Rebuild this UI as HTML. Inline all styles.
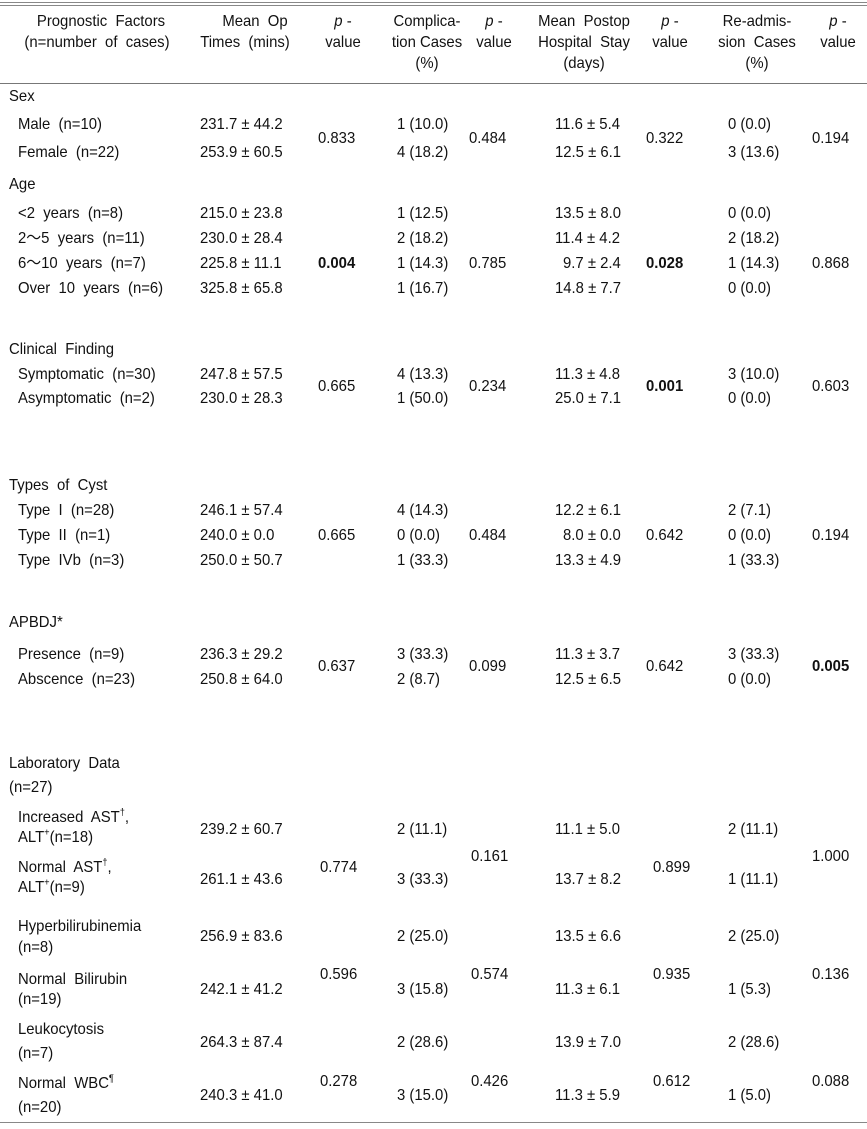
<!DOCTYPE html>
<html><head><meta charset="utf-8"><style>
body{margin:0;background:#fff;}
#w{position:relative;width:867px;height:1129px;overflow:hidden;font-family:"Liberation Sans",Arial,sans-serif;font-size:16px;color:#111;}
#w div{position:absolute;line-height:18px;white-space:nowrap;transform:scaleX(.93);transform-origin:left center;}
#w div.c{width:160px;text-align:center;transform-origin:center center;}
.b{font-weight:bold;}
sup{font-size:10px;line-height:0;}
#w div.ln{height:0;left:0;width:867px;border-top:1px solid #777;transform:none;}
</style></head><body><div id="w">
<div class="ln" style="top:2px;border-top:1.5px solid #888"></div>
<div class="ln" style="top:5px;border-top:1.5px solid #888"></div>
<div class="ln" style="top:83px"></div>
<div class="ln" style="top:1122px;border-top:1.5px solid #888"></div>

<div class="c" style="left:21px;top:13px">Prognostic&nbsp; Factors</div>
<div class="c" style="left:17px;top:34px">(n=number&nbsp; of&nbsp; cases)</div>
<div class="c" style="left:175px;top:13px">Mean&nbsp; Op</div>
<div class="c" style="left:165px;top:34px">Times&nbsp; (mins)</div>
<div class="c" style="left:263px;top:13px"><i>p</i> -</div>
<div class="c" style="left:263px;top:34px">value</div>
<div class="c" style="left:347px;top:13px">Complica-</div>
<div class="c" style="left:347px;top:34px">tion Cases</div>
<div class="c" style="left:347px;top:55px">(%)</div>
<div class="c" style="left:414px;top:13px"><i>p</i> -</div>
<div class="c" style="left:414px;top:34px">value</div>
<div class="c" style="left:504px;top:13px">Mean&nbsp; Postop</div>
<div class="c" style="left:504px;top:34px">Hospital&nbsp; Stay</div>
<div class="c" style="left:504px;top:55px">(days)</div>
<div class="c" style="left:590px;top:13px"><i>p</i> -</div>
<div class="c" style="left:590px;top:34px">value</div>
<div class="c" style="left:677px;top:13px">Re-admis-</div>
<div class="c" style="left:677px;top:34px">sion&nbsp; Cases</div>
<div class="c" style="left:677px;top:55px">(%)</div>
<div class="c" style="left:758px;top:13px"><i>p</i> -</div>
<div class="c" style="left:758px;top:34px">value</div>

<div style="left:9px;top:88px">Sex</div>
<div style="left:18px;top:116px">Male&nbsp; (n=10)</div>
<div style="left:18px;top:144px">Female&nbsp; (n=22)</div>
<div style="left:200px;top:116px">231.7 ± 44.2</div>
<div style="left:200px;top:144px">253.9 ± 60.5</div>
<div style="left:318px;top:130px">0.833</div>
<div style="left:397px;top:116px">1 (10.0)</div>
<div style="left:397px;top:144px">4 (18.2)</div>
<div style="left:469px;top:130px">0.484</div>
<div style="left:555px;top:116px">11.6 ± 5.4</div>
<div style="left:555px;top:144px">12.5 ± 6.1</div>
<div style="left:646px;top:130px">0.322</div>
<div style="left:728px;top:116px">0 (0.0)</div>
<div style="left:728px;top:144px">3 (13.6)</div>
<div style="left:812px;top:130px">0.194</div>

<div style="left:9px;top:176px">Age</div>
<div style="left:18px;top:205px">&lt;2&nbsp; years&nbsp; (n=8)</div>
<div style="left:18px;top:230px">2～5&nbsp; years&nbsp; (n=11)</div>
<div style="left:18px;top:255px">6～10&nbsp; years&nbsp; (n=7)</div>
<div style="left:18px;top:280px">Over&nbsp; 10&nbsp; years&nbsp; (n=6)</div>
<div style="left:200px;top:205px">215.0 ± 23.8</div>
<div style="left:200px;top:230px">230.0 ± 28.4</div>
<div style="left:200px;top:255px">225.8 ± 11.1</div>
<div style="left:200px;top:280px">325.8 ± 65.8</div>
<div class="b" style="left:318px;top:255px">0.004</div>
<div style="left:397px;top:205px">1 (12.5)</div>
<div style="left:397px;top:230px">2 (18.2)</div>
<div style="left:397px;top:255px">1 (14.3)</div>
<div style="left:397px;top:280px">1 (16.7)</div>
<div style="left:469px;top:255px">0.785</div>
<div style="left:555px;top:205px">13.5 ± 8.0</div>
<div style="left:555px;top:230px">11.4 ± 4.2</div>
<div style="left:563px;top:255px">9.7 ± 2.4</div>
<div style="left:555px;top:280px">14.8 ± 7.7</div>
<div class="b" style="left:646px;top:255px">0.028</div>
<div style="left:728px;top:205px">0 (0.0)</div>
<div style="left:728px;top:230px">2 (18.2)</div>
<div style="left:728px;top:255px">1 (14.3)</div>
<div style="left:728px;top:280px">0 (0.0)</div>
<div style="left:812px;top:255px">0.868</div>

<div style="left:9px;top:341px">Clinical&nbsp; Finding</div>
<div style="left:18px;top:366px">Symptomatic&nbsp; (n=30)</div>
<div style="left:18px;top:390px">Asymptomatic&nbsp; (n=2)</div>
<div style="left:200px;top:366px">247.8 ± 57.5</div>
<div style="left:200px;top:390px">230.0 ± 28.3</div>
<div style="left:318px;top:378px">0.665</div>
<div style="left:397px;top:366px">4 (13.3)</div>
<div style="left:397px;top:390px">1 (50.0)</div>
<div style="left:469px;top:378px">0.234</div>
<div style="left:555px;top:366px">11.3 ± 4.8</div>
<div style="left:555px;top:390px">25.0 ± 7.1</div>
<div class="b" style="left:646px;top:378px">0.001</div>
<div style="left:728px;top:366px">3 (10.0)</div>
<div style="left:728px;top:390px">0 (0.0)</div>
<div style="left:812px;top:378px">0.603</div>

<div style="left:9px;top:477px">Types&nbsp; of&nbsp; Cyst</div>
<div style="left:18px;top:502px">Type&nbsp; I&nbsp; (n=28)</div>
<div style="left:18px;top:527px">Type&nbsp; II&nbsp; (n=1)</div>
<div style="left:18px;top:552px">Type&nbsp; IVb&nbsp; (n=3)</div>
<div style="left:200px;top:502px">246.1 ± 57.4</div>
<div style="left:200px;top:527px">240.0 ± 0.0</div>
<div style="left:200px;top:552px">250.0 ± 50.7</div>
<div style="left:318px;top:527px">0.665</div>
<div style="left:397px;top:502px">4 (14.3)</div>
<div style="left:397px;top:527px">0 (0.0)</div>
<div style="left:397px;top:552px">1 (33.3)</div>
<div style="left:469px;top:527px">0.484</div>
<div style="left:555px;top:502px">12.2 ± 6.1</div>
<div style="left:563px;top:527px">8.0 ± 0.0</div>
<div style="left:555px;top:552px">13.3 ± 4.9</div>
<div style="left:646px;top:527px">0.642</div>
<div style="left:728px;top:502px">2 (7.1)</div>
<div style="left:728px;top:527px">0 (0.0)</div>
<div style="left:728px;top:552px">1 (33.3)</div>
<div style="left:812px;top:527px">0.194</div>

<div style="left:9px;top:614px">APBDJ*</div>
<div style="left:18px;top:646px">Presence&nbsp; (n=9)</div>
<div style="left:18px;top:671px">Abscence&nbsp; (n=23)</div>
<div style="left:200px;top:646px">236.3 ± 29.2</div>
<div style="left:200px;top:671px">250.8 ± 64.0</div>
<div style="left:318px;top:658px">0.637</div>
<div style="left:397px;top:646px">3 (33.3)</div>
<div style="left:397px;top:671px">2 (8.7)</div>
<div style="left:469px;top:658px">0.099</div>
<div style="left:555px;top:646px">11.3 ± 3.7</div>
<div style="left:555px;top:671px">12.5 ± 6.5</div>
<div style="left:646px;top:658px">0.642</div>
<div style="left:728px;top:646px">3 (33.3)</div>
<div style="left:728px;top:671px">0 (0.0)</div>
<div class="b" style="left:812px;top:658px">0.005</div>

<div style="left:9px;top:755px">Laboratory&nbsp; Data</div>
<div style="left:9px;top:779px">(n=27)</div>
<div style="left:18px;top:809px">Increased&nbsp; AST<sup>†</sup>,</div>
<div style="left:18px;top:829px">ALT<sup>+</sup>(n=18)</div>
<div style="left:18px;top:859px">Normal&nbsp; AST<sup>†</sup>,</div>
<div style="left:18px;top:879px">ALT<sup>+</sup>(n=9)</div>
<div style="left:200px;top:821px">239.2 ± 60.7</div>
<div style="left:200px;top:871px">261.1 ± 43.6</div>
<div style="left:320px;top:859px">0.774</div>
<div style="left:397px;top:821px">2 (11.1)</div>
<div style="left:397px;top:871px">3 (33.3)</div>
<div style="left:471px;top:848px">0.161</div>
<div style="left:555px;top:821px">11.1 ± 5.0</div>
<div style="left:555px;top:871px">13.7 ± 8.2</div>
<div style="left:653px;top:859px">0.899</div>
<div style="left:728px;top:821px">2 (11.1)</div>
<div style="left:728px;top:871px">1 (11.1)</div>
<div style="left:812px;top:848px">1.000</div>

<div style="left:18px;top:918px">Hyperbilirubinemia</div>
<div style="left:18px;top:939px">(n=8)</div>
<div style="left:18px;top:971px">Normal&nbsp; Bilirubin</div>
<div style="left:18px;top:991px">(n=19)</div>
<div style="left:200px;top:928px">256.9 ± 83.6</div>
<div style="left:200px;top:981px">242.1 ± 41.2</div>
<div style="left:320px;top:966px">0.596</div>
<div style="left:397px;top:928px">2 (25.0)</div>
<div style="left:397px;top:981px">3 (15.8)</div>
<div style="left:471px;top:966px">0.574</div>
<div style="left:555px;top:928px">13.5 ± 6.6</div>
<div style="left:555px;top:981px">11.3 ± 6.1</div>
<div style="left:653px;top:966px">0.935</div>
<div style="left:728px;top:928px">2 (25.0)</div>
<div style="left:728px;top:981px">1 (5.3)</div>
<div style="left:812px;top:966px">0.136</div>

<div style="left:18px;top:1021px">Leukocytosis</div>
<div style="left:18px;top:1045px">(n=7)</div>
<div style="left:18px;top:1075px">Normal&nbsp; WBC<sup>¶</sup></div>
<div style="left:18px;top:1099px">(n=20)</div>
<div style="left:200px;top:1034px">264.3 ± 87.4</div>
<div style="left:200px;top:1087px">240.3 ± 41.0</div>
<div style="left:320px;top:1073px">0.278</div>
<div style="left:397px;top:1034px">2 (28.6)</div>
<div style="left:397px;top:1087px">3 (15.0)</div>
<div style="left:471px;top:1073px">0.426</div>
<div style="left:555px;top:1034px">13.9 ± 7.0</div>
<div style="left:555px;top:1087px">11.3 ± 5.9</div>
<div style="left:653px;top:1073px">0.612</div>
<div style="left:728px;top:1034px">2 (28.6)</div>
<div style="left:728px;top:1087px">1 (5.0)</div>
<div style="left:812px;top:1073px">0.088</div>
</div></body></html>
